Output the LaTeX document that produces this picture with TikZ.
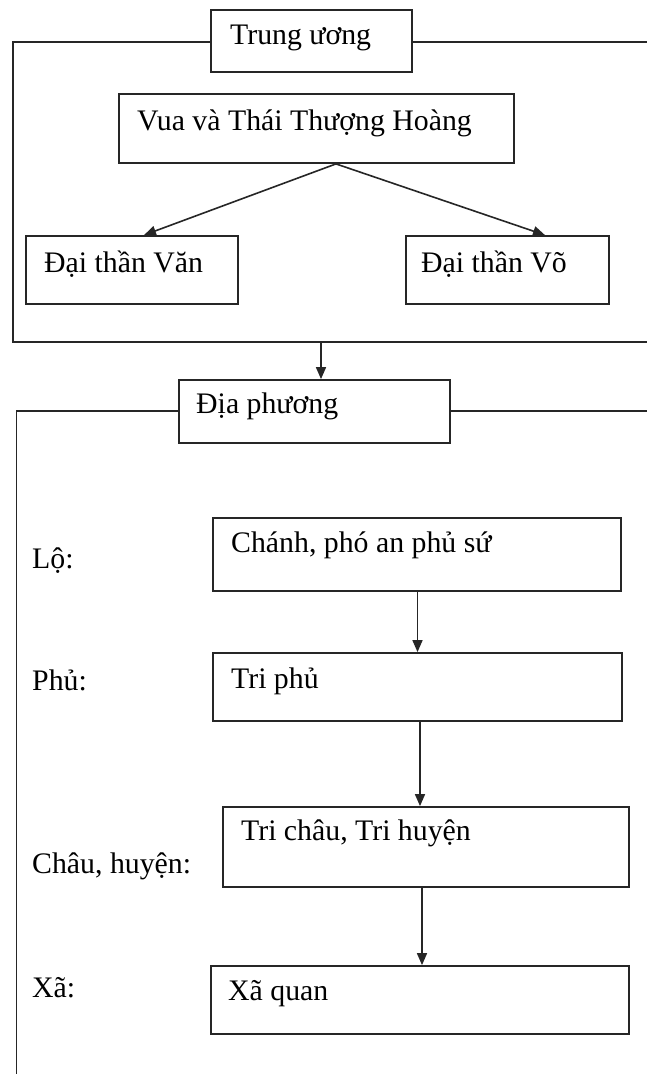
\documentclass[tikz,border=0pt]{standalone}
\usepackage{fontspec}
\setmainfont{Liberation Serif}
\usetikzlibrary{arrows.meta,calc}
\begin{document}
\begin{tikzpicture}[x=1pt,y=-1pt,
  ln/.style={line width=1.8pt,draw=black!85},
  box/.style={ln,fill=white,rectangle,inner sep=0pt},
  txt/.style={inner sep=0pt,anchor=base west,font=\fontsize{29.8}{34}\selectfont},
  arr/.style={line width=1.6pt,draw=black!85,-{Triangle[length=12pt,width=10pt]}}]
\useasboundingbox (0,0) rectangle (647,1074);
\clip (0,0) rectangle (647,1074);
\fill[white] (0,0) rectangle (647,1074);
% frames
\draw[ln] (13,42) rectangle (700,342);
\draw[ln] (16.5,411) rectangle (700,1120);
\coordinate (f1b) at (321,342);
% boxes
\node[box,minimum width=201pt,minimum height=62pt] (tw) at (311.5,41) {};
\node[box,minimum width=395pt,minimum height=69pt] (vua) at (316.5,128.5) {};
\node[box,minimum width=212pt,minimum height=68pt] (van) at (132,270) {};
\node[box,minimum width=203pt,minimum height=68pt] (vo) at (507.5,270) {};
\node[box,minimum width=271pt,minimum height=63pt] (dp) at (314.5,411.5) {};
\node[box,minimum width=408pt,minimum height=73pt] (chanh) at (417,554.5) {};
\node[box,minimum width=409pt,minimum height=68pt] (triphu) at (417.5,687) {};
\node[box,minimum width=406pt,minimum height=80pt] (trichau) at (426,847) {};
\node[box,minimum width=418pt,minimum height=68pt] (xaquan) at (420,1000) {};
% texts
\node[txt] (ttw) at (230,44) {Trung ương};
\node[txt] (tvua) at (137,130) {Vua và Thái Thượng Hoàng};
\node[txt] (tvan) at (44,272) {Đại thần Văn};
\node[txt] (tvo) at (421,272) {Đại thần Võ};
\node[txt] (tdp) at (196,413) {Địa phương};
\node[txt] (tchanh) at (231,552) {Chánh, phó an phủ sứ};
\node[txt] (llo) at (32,568) {Lộ:};
\node[txt] (ttriphu) at (231,688) {Tri phủ};
\node[txt] (lphu) at (32,690) {Phủ:};
\node[txt] (ttrichau) at (241,840) {Tri châu, Tri huyện};
\node[txt] (lchau) at (32,873) {Châu, huyện:};
\node[txt] (txaquan) at (228,1000) {Xã quan};
\node[txt] (lxa) at (32,997) {Xã:};
% connectors
\draw[arr] ($(vua.south)+(19.5,0)$) -- ($(van.north)+(12,0)$);
\draw[arr] ($(vua.south)+(19.5,0)$) -- ($(vo.north)+(37.5,0)$);
\draw[arr] (f1b) -- (f1b |- dp.north);
\draw[arr] ($(chanh.south)+(0.5,0)$) -- ($(triphu.north)$);
\draw[arr] ($(triphu.south)+(2.5,0)$) -- ($(trichau.north)+(-6,0)$);
\draw[arr] ($(trichau.south)+(-4,0)$) -- ($(xaquan.north)+(2,0)$);
\end{tikzpicture}
\end{document}
